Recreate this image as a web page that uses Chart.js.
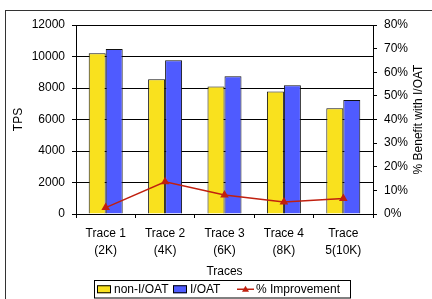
<!DOCTYPE html>
<html>
<head>
<meta charset="utf-8">
<script src="https://cdn.jsdelivr.net/npm/chart.js@4.4.1/dist/chart.umd.min.js"></script>
<style>
  html, body { margin: 0; padding: 0; background: #fff; }
  canvas { display: block; }
</style>
</head>
<body>
<canvas id="tpsChart" width="432" height="299"></canvas>
<script>
// Chart values
const traces = [["Trace 1", "(2K)"], ["Trace 2", "(4K)"], ["Trace 3", "(6K)"], ["Trace 4", "(8K)"], ["Trace", "5(10K)"]];
const nonIoat = [10200, 8550, 8100, 7770, 6710];
const ioat = [10480, 9760, 8740, 8170, 7240];
const improvement = [2.7, 13.6, 8.0, 5.1, 6.6];
const tpsTicks = [0, 2000, 4000, 6000, 8000, 10000, 12000];
const pctTicks = [0, 10, 20, 30, 40, 50, 60, 70, 80];

const YELLOW = "#F9E11E";
const BLUE = "#4F5BFF";
const RED = "#C0200F";
const FONT = "Liberation Sans, Arial, sans-serif";

// outer frame, right axis title (reads bottom to top) and boxed legend
const extrasPlugin = {
    id: "extras",
    afterDraw(chart) {
        let ctx = chart.ctx;
        let area = chart.chartArea;
        ctx.save();

        // frame around the whole figure
        ctx.strokeStyle = "#333";
        ctx.lineWidth = 1;
        ctx.strokeRect(5.5, 10.5, 600, 400);

        // right axis title
        ctx.fillStyle = "#000";
        ctx.font = "12px " + FONT;
        ctx.textAlign = "center";
        ctx.textBaseline = "middle";
        ctx.translate(419, (area.top + area.bottom) / 2);
        ctx.rotate(-Math.PI / 2);
        ctx.fillText("% Benefit with I/OAT", 0, 0);
        ctx.setTransform(1, 0, 0, 1, 0, 0);

        // legend
        let top = 280, bottom = 297.5;
        let mid = (top + bottom) / 2 + 0.5;
        ctx.font = "12px " + FONT;
        ctx.textAlign = "left";
        ctx.textBaseline = "middle";
        let items = [
            { label: "non-I/OAT", kind: "box", color: YELLOW, x: 97 },
            { label: "I/OAT", kind: "box", color: BLUE, x: 173 },
            { label: "% Improvement", kind: "line", color: RED, x: 237 }
        ];
        items.forEach(function(it) {
            let x = it.x;
            if (it.kind === "box") {
                ctx.fillStyle = it.color;
                ctx.fillRect(x, mid - 4, 14, 8);
                ctx.strokeStyle = "#000";
                ctx.strokeRect(x + 0.5, mid - 3.5, 13, 7);
                x += 17;
            } else {
                ctx.strokeStyle = it.color;
                ctx.lineWidth = 1.5;
                ctx.beginPath();
                ctx.moveTo(x, mid);
                ctx.lineTo(x + 17, mid);
                ctx.stroke();
                ctx.fillStyle = it.color;
                ctx.beginPath();
                ctx.moveTo(x + 8.5, mid - 3.5);
                ctx.lineTo(x + 12, mid + 2.5);
                ctx.lineTo(x + 5, mid + 2.5);
                ctx.closePath();
                ctx.fill();
                ctx.lineWidth = 1;
                x += 19;
            }
            ctx.fillStyle = "#000";
            ctx.fillText(it.label, x, mid);
        });
        ctx.strokeStyle = "#000";
        ctx.strokeRect(94.5, top + 0.5, 256, bottom - top);
        ctx.restore();
    }
};

let ctx = document.getElementById("tpsChart").getContext("2d");
new Chart(ctx, {
    type: "bar",
    data: {
        labels: traces,
        datasets: [
            {
                label: "non-I/OAT",
                data: nonIoat,
                backgroundColor: YELLOW,
                borderColor: "#111",
                borderWidth: 1,
                yAxisID: "y",
                order: 2
            },
            {
                label: "I/OAT",
                data: ioat,
                backgroundColor: BLUE,
                borderColor: "#111",
                borderWidth: 1,
                yAxisID: "y",
                order: 2
            },
            {
                type: "line",
                label: "% Improvement",
                data: improvement,
                borderColor: RED,
                backgroundColor: RED,
                borderWidth: 1.5,
                pointStyle: "triangle",
                pointRadius: 3.5,
                yAxisID: "y1",
                order: 1
            }
        ]
    },
    options: {
        responsive: false,
        animation: false,
        devicePixelRatio: 1,
        layout: { padding: { top: 25, left: 0, right: 0, bottom: 0 } },
        plugins: {
            legend: { display: false },
            tooltip: { enabled: false }
        },
        datasets: {
            bar: { categoryPercentage: 0.572, barPercentage: 1 }
        },
        scales: {
            x: {
                offset: true,
                grid: { offset: true, drawOnChartArea: false, tickLength: 4, color: "#000" },
                border: { color: "#000" },
                ticks: {
                    color: "#000",
                    padding: 7,
                    maxRotation: 0,
                    autoSkip: false,
                    font: { family: FONT, size: 12, lineHeight: 1.42 }
                },
                title: {
                    display: true,
                    text: "Traces",
                    color: "#000",
                    font: { family: FONT, size: 12 },
                    padding: { top: 0, bottom: 20 }
                },
                afterFit: function(s) { s.height = 85; }
            },
            y: {
                position: "left",
                min: 0,
                max: 12000,
                afterBuildTicks: function(s) { s.ticks = tpsTicks.map(v => ({ value: v })); },
                grid: { color: "#000", tickLength: 4 },
                border: { color: "#000" },
                ticks: {
                    color: "#000",
                    padding: 7,
                    font: { family: FONT, size: 12 },
                    callback: function(v) { return String(v); }
                },
                title: {
                    display: true,
                    text: "TPS",
                    color: "#000",
                    font: { family: FONT, size: 12 },
                    padding: { top: 11, bottom: 0 }
                },
                afterFit: function(s) { s.width = 76; }
            },
            y1: {
                position: "right",
                min: 0,
                max: 80,
                afterBuildTicks: function(s) { s.ticks = pctTicks.map(v => ({ value: v })); },
                grid: { drawOnChartArea: false, color: "#000", tickLength: 4 },
                border: { color: "#000" },
                ticks: {
                    color: "#000",
                    padding: 7,
                    font: { family: FONT, size: 12 },
                    callback: function(v) { return v + "%"; }
                },
                afterFit: function(s) { s.width = 59; }
            }
        }
    },
    plugins: [extrasPlugin]
});
</script>
</body>
</html>
